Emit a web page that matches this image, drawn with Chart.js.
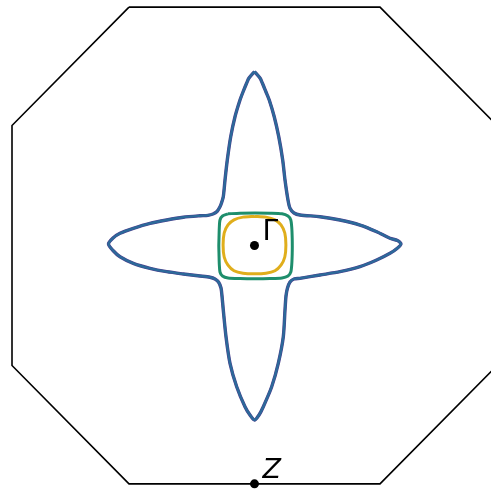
<!DOCTYPE html>
<html>
<head>
<meta charset="utf-8">
<script src="https://cdn.jsdelivr.net/npm/chart.js@4.4.1/dist/chart.umd.min.js"></script>
<style>
  html, body { margin: 0; padding: 0; background: #ffffff; }
  #fs { display: block; }
</style>
</head>
<body>
<canvas id="fs" width="491" height="491"></canvas>
<script>
// Brillouin zone boundary (octagonal cut), in units of the zone half-width
const bzX = [-0.5175, 0.5175, 1.0, 1.0, 0.5175, -0.5175, -1.0, -1.0, -0.5175];
const bzY = [0.983, 0.983, 0.495, -0.495, -0.983, -0.983, -0.495, 0.495, 0.983];

// outer band: four-armed star contour
const starX = [0, -0.0227, -0.0322, -0.0474, -0.0598, -0.0804, -0.0981, -0.1122, -0.1216, -0.1287,
  -0.1361, -0.1423, -0.1546, -0.1711, -0.1918, -0.2247, -0.2936, -0.3621, -0.4309, -0.4998,
  -0.5546, -0.5835, -0.6021, -0.5835, -0.5546, -0.4998, -0.4309, -0.3621, -0.2936, -0.2247,
  -0.1835, -0.1629, -0.1485, -0.1381, -0.1340, -0.1287, -0.1175, -0.1010, -0.0734, -0.0392,
  -0.0186, 0, 0.0186, 0.0363, 0.0709, 0.0981, 0.1188, 0.1258, 0.1299, 0.1361,
  0.1464, 0.1629, 0.1876, 0.2701, 0.3526, 0.4351, 0.5039, 0.5588, 0.5876, 0.6041,
  0.5897, 0.5588, 0.5039, 0.4351, 0.3526, 0.2701, 0.1876, 0.1629, 0.1464, 0.1381,
  0.1258, 0.1163, 0.1000, 0.0814, 0.0608, 0.0474, 0.0322, 0.0227, 0];
const starY = [0.7175, 0.6907, 0.6701, 0.6330, 0.6000, 0.5311, 0.4487, 0.3526, 0.2701, 0.2012,
  0.1753, 0.1600, 0.1402, 0.1299, 0.1245, 0.1225, 0.1163, 0.1052, 0.0915, 0.0709,
  0.0503, 0.0309, 0.0062, -0.0206, -0.0462, -0.0734, -0.0940, -0.1080, -0.1175, -0.1258,
  -0.1311, -0.1381, -0.1505, -0.1753, -0.2082, -0.2660, -0.3761, -0.4858, -0.5823, -0.6647,
  -0.6990, -0.7196, -0.6990, -0.6647, -0.5823, -0.4858, -0.3761, -0.2660, -0.2082, -0.1753,
  -0.1505, -0.1381, -0.1353, -0.1216, -0.1080, -0.0874, -0.0598, -0.0322, -0.0124, 0.0062,
  0.0206, 0.0297, 0.0569, 0.0845, 0.1052, 0.1188, 0.1258, 0.1340, 0.1534, 0.1876,
  0.2701, 0.3526, 0.4487, 0.5311, 0.6000, 0.6330, 0.6701, 0.6907, 0.7175];

// middle band: rounded square around Gamma
const squareX = [-0.1093, -0.0598, 0.0021, 0.0639, 0.1134, 0.1381, 0.1497, 0.1538, 0.1555, 0.1559,
  0.1555, 0.1538, 0.1497, 0.1381, 0.1134, 0.0639, 0.0021, -0.0598, -0.1093, -0.1320,
  -0.1423, -0.1452, -0.1464, -0.1472, -0.1464, -0.1452, -0.1423, -0.1320, -0.1093];
const squareY = [0.1307, 0.1332, 0.1340, 0.1332, 0.1307, 0.1216, 0.1052, 0.0722, 0.0309, -0.0021,
  -0.0351, -0.0763, -0.1093, -0.1258, -0.1340, -0.1365, -0.1373, -0.1365, -0.1340, -0.1258,
  -0.1093, -0.0763, -0.0351, -0.0021, 0.0309, 0.0722, 0.1052, 0.1216, 0.1307];

// inner band: small pocket at Gamma
const pocketX = [0, 0.0474, 0.0845, 0.1093, 0.1250, 0.1295, 0.1250, 0.1093, 0.0845, 0.0474,
  0, -0.0474, -0.0845, -0.1093, -0.1250, -0.1295, -0.1250, -0.1093, -0.0845, -0.0474, 0];
const pocketY = [0.1200, 0.1170, 0.1060, 0.0850, 0.0515, 0.0021, -0.0474, -0.0810, -0.1040, -0.1145,
  -0.1170, -0.1145, -0.1040, -0.0810, -0.0474, 0.0021, 0.0515, 0.0850, 0.1060, 0.1170, 0.1200];

// high-symmetry points
const kptNames = ['\u0393', 'Z'];
const kptX = [0, 0];
const kptY = [0, -0.983];

function toPoints(xs, ys) {
    return xs.map((x, i) => ({ x: x, y: ys[i] }));
}

function contour(xs, ys, color, width) {
    return {
        data: toPoints(xs, ys),
        showLine: true,
        borderColor: color,
        borderWidth: width,
        pointRadius: 0,
        tension: 0.25,
        fill: false
    };
}

// writes the k-point names next to their dots
const kptLabels = {
    id: 'kptLabels',
    afterDatasetsDraw(chart) {
        const ctx = chart.ctx;
        const xs = chart.scales.x;
        const ys = chart.scales.y;
        ctx.save();
        ctx.fillStyle = '#000000';
        ctx.textBaseline = 'alphabetic';
        kptNames.forEach((name, i) => {
            const px = xs.getPixelForValue(kptX[i]);
            const py = ys.getPixelForValue(kptY[i]);
            ctx.font = name === 'Z' ? 'italic 27px "DejaVu Sans"' : '28px "DejaVu Sans"';
            ctx.fillText(name, px + 8, py - 6);
        });
        ctx.restore();
    }
};

const bz = contour(bzX, bzY, '#000000', 1.6);
bz.tension = 0;

// first dataset ends up on top, so the dots come first and the zone edge last
new Chart(document.getElementById('fs'), {
    type: 'scatter',
    data: {
        datasets: [
            {
                data: toPoints(kptX, kptY),
                pointRadius: 4.5,
                pointBackgroundColor: '#000000',
                pointBorderWidth: 0,
                showLine: false
            },
            contour(pocketX, pocketY, '#e0ae1c', 3),
            contour(squareX, squareY, '#1e8e6c', 3),
            contour(starX, starY, '#2c6a9a', 2.4),
            contour(starX, starY, '#4a3f8c', 3.4),
            bz
        ]
    },
    options: {
        responsive: false,
        maintainAspectRatio: false,
        animation: false,
        layout: { padding: 0, autoPadding: false },
        plugins: { legend: { display: false }, tooltip: { enabled: false } },
        scales: {
            x: { type: 'linear', min: -1.0495, max: 0.9753, display: false },
            y: { type: 'linear', min: -1.0124, max: 1.0124, display: false }
        }
    },
    plugins: [kptLabels]
});
</script>
</body>
</html>
